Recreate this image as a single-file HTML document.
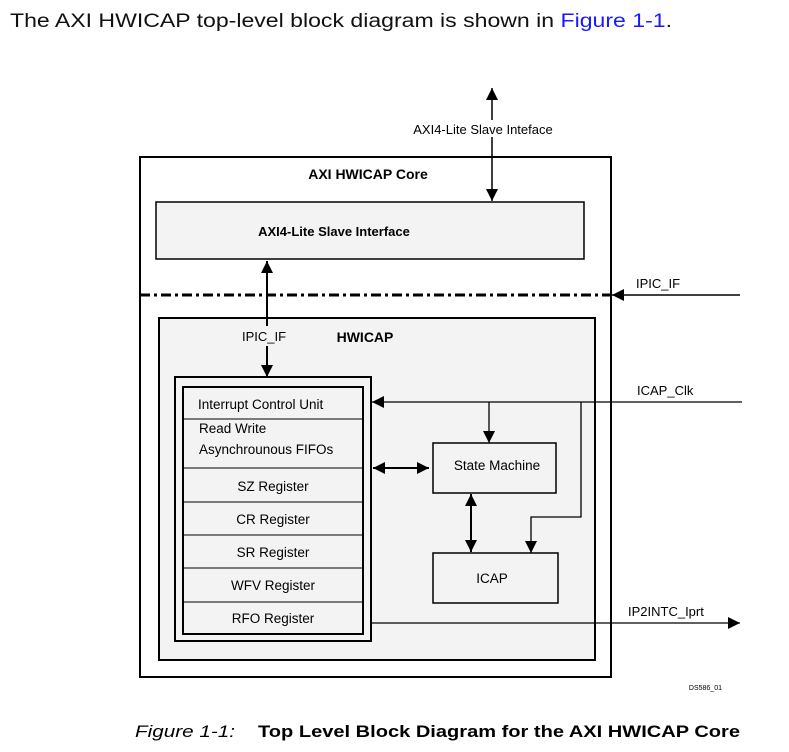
<!DOCTYPE html>
<html><head><meta charset="utf-8"><style>
html,body{margin:0;padding:0;background:#fff;}
svg{display:block;font-family:"Liberation Sans",sans-serif;}
</style></head><body>
<svg width="789" height="752" viewBox="0 0 789 752" xmlns="http://www.w3.org/2000/svg">
<defs>
<marker id="a" viewBox="0 0 10 10" refX="10" refY="5" markerWidth="8" markerHeight="8" markerUnits="userSpaceOnUse" orient="auto-start-reverse"><path d="M0,0L10,5L0,10z" fill="#000"/></marker>
<marker id="b" viewBox="0 0 10 10" refX="10" refY="5" markerWidth="12" markerHeight="12" markerUnits="userSpaceOnUse" orient="auto-start-reverse"><path d="M0,0L10,5L0,10z" fill="#000"/></marker>
</defs>
<text x="10" y="27" font-size="19" fill="#111" textLength="662" lengthAdjust="spacingAndGlyphs">The AXI HWICAP top-level block diagram is shown in <tspan fill="#1a1aff">Figure 1-1</tspan>.</text>

<rect x="140" y="157" width="471" height="520" fill="#fff" stroke="#000" stroke-width="2"/>
<text x="368" y="179" font-size="14" font-weight="bold" text-anchor="middle">AXI HWICAP Core</text>
<rect x="156" y="202" width="428" height="57" fill="#f3f3f3" stroke="#000" stroke-width="1.5"/>
<text x="334" y="236" font-size="13" font-weight="bold" text-anchor="middle">AXI4-Lite Slave Interface</text>

<line x1="492" y1="201" x2="492" y2="137" stroke="#000" stroke-width="1.5" marker-start="url(#b)"/>
<line x1="492" y1="120" x2="492" y2="88" stroke="#000" stroke-width="1.5" marker-end="url(#b)"/>
<text x="483" y="134" font-size="13" text-anchor="middle">AXI4-Lite Slave Inteface</text>

<line x1="140" y1="295" x2="611" y2="295" stroke="#000" stroke-width="3" stroke-dasharray="10,4,3,4"/>
<line x1="740" y1="295" x2="612" y2="295" stroke="#000" stroke-width="1.5" marker-end="url(#b)"/>
<text x="636" y="288" font-size="13">IPIC_IF</text>

<rect x="159" y="318" width="436" height="342" fill="#f3f3f3" stroke="#000" stroke-width="2"/>
<text x="365" y="342" font-size="14" font-weight="bold" text-anchor="middle">HWICAP</text>
<line x1="267" y1="326" x2="267" y2="261" stroke="#000" stroke-width="2" marker-end="url(#b)"/>
<text x="264" y="341" font-size="13" text-anchor="middle">IPIC_IF</text>
<line x1="267" y1="346" x2="267" y2="377" stroke="#000" stroke-width="2" marker-end="url(#b)"/>

<rect x="175" y="377" width="196" height="264" fill="#f3f3f3" stroke="#000" stroke-width="2"/>
<rect x="183" y="387" width="180" height="247" fill="#f3f3f3" stroke="#000" stroke-width="2"/>
<g stroke="#000" stroke-width="1">
<line x1="183" y1="419" x2="363" y2="419"/><line x1="183" y1="468" x2="363" y2="468"/>
<line x1="183" y1="502" x2="363" y2="502"/><line x1="183" y1="535" x2="363" y2="535"/>
<line x1="183" y1="568" x2="363" y2="568"/><line x1="183" y1="602" x2="363" y2="602"/>
</g>
<g font-size="13.5">
<text x="198" y="409">Interrupt Control Unit</text>
<text x="199" y="433">Read Write</text>
<text x="199" y="454">Asynchrounous FIFOs</text>
<text x="273" y="491" text-anchor="middle">SZ Register</text>
<text x="273" y="524" text-anchor="middle">CR Register</text>
<text x="273" y="557" text-anchor="middle">SR Register</text>
<text x="273" y="590" text-anchor="middle">WFV Register</text>
<text x="273" y="623" text-anchor="middle">RFO Register</text>
</g>

<rect x="433" y="443" width="123" height="50" fill="#f3f3f3" stroke="#000" stroke-width="1.5"/>
<text x="497" y="470" font-size="13.5" text-anchor="middle">State Machine</text>
<rect x="433" y="553" width="125" height="50" fill="#f3f3f3" stroke="#000" stroke-width="1.5"/>
<text x="492" y="583" font-size="13.5" text-anchor="middle">ICAP</text>

<g stroke="#000" stroke-width="1.3" fill="none">
<line x1="742" y1="402" x2="372" y2="402" marker-end="url(#b)"/>
<line x1="489" y1="402" x2="489" y2="443" marker-end="url(#b)"/>
<polyline points="581,402 581,517 531,517 531,553" marker-end="url(#b)"/>
<line x1="371" y1="623" x2="740" y2="623" marker-end="url(#b)"/>
</g>
<line x1="373" y1="468" x2="429" y2="468" stroke="#000" stroke-width="2" marker-start="url(#b)" marker-end="url(#b)"/>
<line x1="471" y1="494" x2="471" y2="552" stroke="#000" stroke-width="2" marker-start="url(#b)" marker-end="url(#b)"/>
<text x="637" y="395" font-size="13">ICAP_Clk</text>
<text x="628" y="616" font-size="13">IP2INTC_Iprt</text>

<text x="722" y="690" font-size="7" text-anchor="end">DS586_01</text>
<text x="135" y="737" font-size="17" font-style="italic" textLength="100" lengthAdjust="spacingAndGlyphs">Figure 1-1:</text>
<text x="258" y="737" font-size="17" font-weight="bold" textLength="482" lengthAdjust="spacingAndGlyphs">Top Level Block Diagram for the AXI HWICAP Core</text>
</svg>
</body></html>
